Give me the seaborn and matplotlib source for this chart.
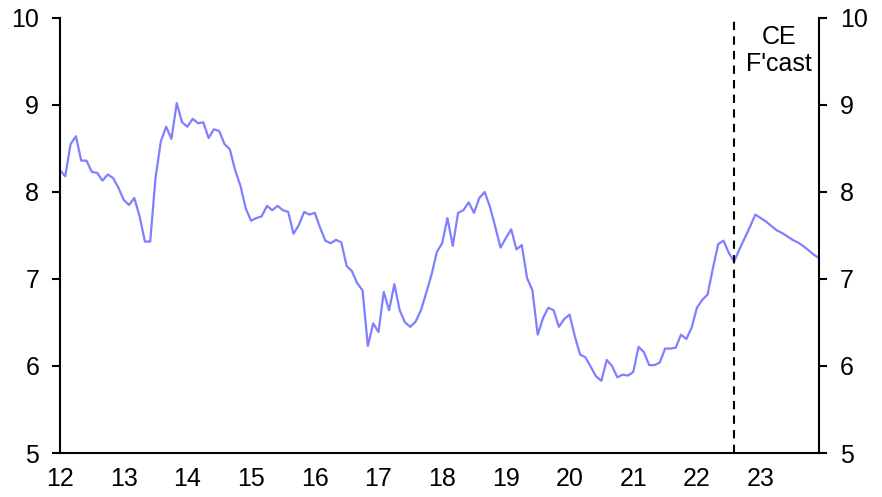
import numpy as np
import pandas as pd
import matplotlib
matplotlib.use("Agg")
import matplotlib.pyplot as plt
import seaborn as sns

# monthly values, Jan 2012 - Jul 2022 (actual) then forecast to Dec 2023
actual = [
    8.25, 8.18, 8.55, 8.64, 8.36, 8.36, 8.23, 8.22, 8.13, 8.20, 8.16, 8.05,
    7.91, 7.85, 7.93, 7.72, 7.43, 7.43, 8.16, 8.58, 8.75, 8.61, 9.02, 8.80,
    8.75, 8.84, 8.79, 8.80, 8.62, 8.72, 8.70, 8.55, 8.49, 8.25, 8.07, 7.81,
    7.67, 7.70, 7.72, 7.84, 7.79, 7.84, 7.79, 7.77, 7.52, 7.62, 7.77, 7.74,
    7.76, 7.59, 7.44, 7.41, 7.45, 7.42, 7.15, 7.09, 6.95, 6.87, 6.23, 6.49,
    6.39, 6.85, 6.64, 6.94, 6.64, 6.50, 6.45, 6.51, 6.64, 6.84, 7.05, 7.31,
    7.41, 7.70, 7.38, 7.76, 7.79, 7.88, 7.76, 7.93, 8.00, 7.83, 7.60, 7.36,
    7.47, 7.57, 7.34, 7.39, 7.01, 6.87, 6.36, 6.55, 6.67, 6.64, 6.45, 6.54,
    6.59, 6.34, 6.13, 6.10, 5.99, 5.88, 5.83, 6.07, 6.00, 5.87, 5.90, 5.89,
    5.93, 6.22, 6.16, 6.01, 6.01, 6.04, 6.20, 6.20, 6.21, 6.36, 6.31, 6.44,
    6.67, 6.76, 6.82, 7.12, 7.40, 7.44, 7.30, 7.20,
]
forecast = [
    7.34, 7.47, 7.60, 7.74, 7.70, 7.66, 7.61, 7.56,
    7.53, 7.49, 7.45, 7.42, 7.38, 7.33, 7.28, 7.24,
]
year_ticks = list(range(12, 24))
y_ticks = [5, 6, 7, 8, 9, 10]
forecast_start = 12 + 127 / 12

values = actual + forecast
df = pd.DataFrame({"x": 12 + np.arange(len(values)) / 12, "value": values})

sns.set_style("white")
plt.rcParams["font.family"] = ["Liberation Sans", "DejaVu Sans"]
plt.rcParams["text.color"] = "black"

fig = plt.figure(figsize=(8.82, 4.97), dpi=100)
ax = fig.add_axes([0.068, 0.0885, 0.8606, 0.8755])

sns.lineplot(data=df, x="x", y="value", ax=ax, color="#7f7fff", linewidth=1.6)
ax.axvline(forecast_start, color="black", linestyle=(0, (4, 3)), linewidth=1.5)
ax.text(forecast_start + 0.7, 9.63, "CE\nF'cast", ha="center", va="center",
        fontsize=18, linespacing=1.15, color="black")

ax.set_xlim(12, 12 + (len(values) - 1) / 12)
ax.set_ylim(5, 10)
ax.set_xticks(year_ticks)
ax.set_xticklabels([str(y) for y in year_ticks])
ax.set_yticks(y_ticks)
ax.set_xlabel("")
ax.set_ylabel("")

ax2 = ax.twinx()
ax2.set_ylim(5, 10)
ax2.set_yticks(y_ticks)

for a in (ax, ax2):
    a.spines["top"].set_visible(False)
    for side in ("left", "right", "bottom"):
        a.spines[side].set_color("black")
        a.spines[side].set_linewidth(1.5)
    a.tick_params(axis="both", direction="out", length=6, width=1.5,
                  colors="black", labelsize=18, pad=9)
ax.spines["right"].set_visible(False)
ax2.spines["left"].set_visible(False)
ax2.spines["bottom"].set_visible(False)
ax.tick_params(axis="x", pad=4)

fig.savefig("out.png", dpi=100)
